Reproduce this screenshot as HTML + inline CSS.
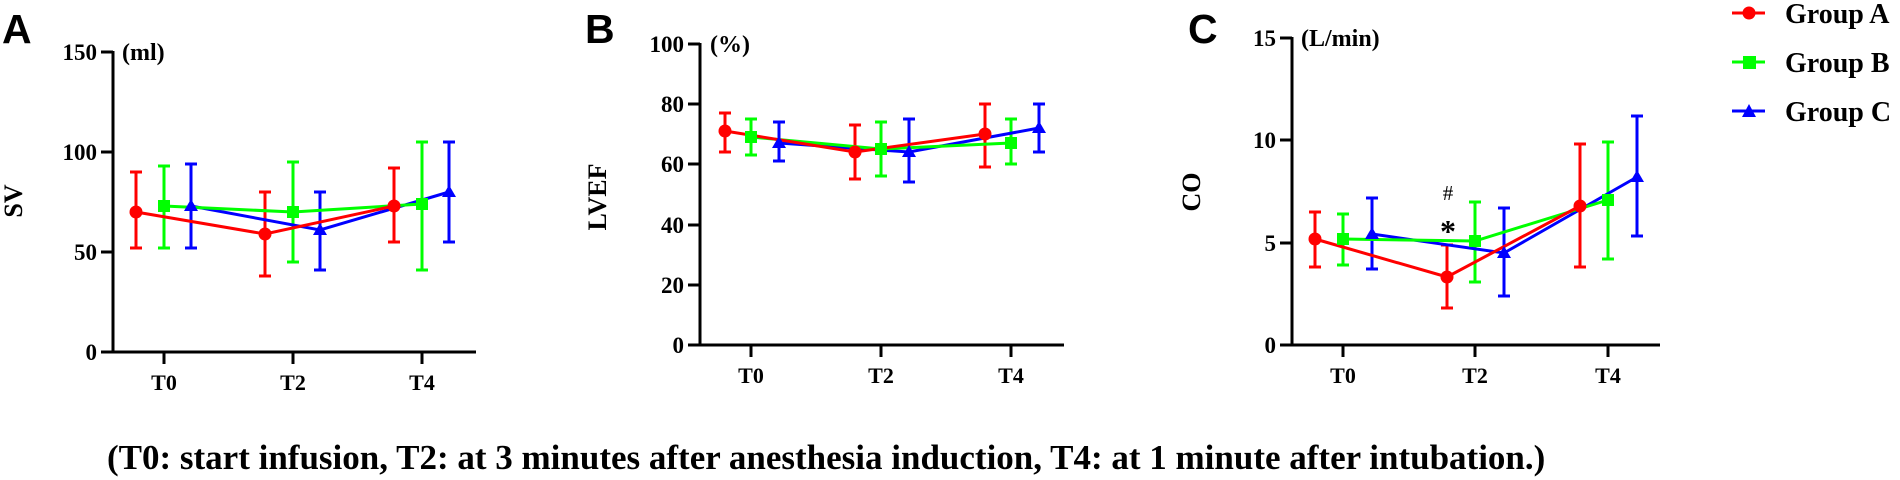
<!DOCTYPE html>
<html><head><meta charset="utf-8"><style>
html,body{margin:0;padding:0;background:#fff;}
svg{display:block}
text{font-family:"Liberation Serif",serif;font-weight:bold;fill:#000}
</style></head><body>
<svg width="1900" height="480" viewBox="0 0 1900 480" xmlns="http://www.w3.org/2000/svg">
<!-- Panel letters -->
<text x="2" y="43" style="font-family:'Liberation Sans',sans-serif;font-size:41px">A</text>
<text x="585" y="43" style="font-family:'Liberation Sans',sans-serif;font-size:41px">B</text>
<text x="1188" y="43" style="font-family:'Liberation Sans',sans-serif;font-size:41px">C</text>

<!-- ===== Panel A ===== -->
<g stroke="#000" stroke-width="3" fill="none">
<line x1="113" y1="51" x2="113" y2="353"/>
<line x1="101" y1="352" x2="476" y2="352"/>
<line x1="101" y1="52" x2="113" y2="52"/><line x1="101" y1="152" x2="113" y2="152"/><line x1="101" y1="252" x2="113" y2="252"/>
<line x1="164" y1="352" x2="164" y2="364"/><line x1="293" y1="352" x2="293" y2="364"/><line x1="422" y1="352" x2="422" y2="364"/>
</g>
<g font-size="23" text-anchor="end">
<text x="97" y="60">150</text><text x="97" y="160">100</text><text x="97" y="260">50</text><text x="97" y="360">0</text>
</g>
<g font-size="22" text-anchor="middle">
<text x="164" y="390">T0</text><text x="293" y="390">T2</text><text x="422" y="390">T4</text>
</g>
<text x="122" y="60" font-size="24">(ml)</text>
<text transform="translate(22,201) rotate(-90)" font-size="26" text-anchor="middle">SV</text>
<g stroke="#f00" stroke-width="3">
<line x1="136" y1="172" x2="136" y2="248"/><line x1="130" y1="172" x2="142" y2="172"/><line x1="130" y1="248" x2="142" y2="248"/>
<line x1="265" y1="192" x2="265" y2="276"/><line x1="259" y1="192" x2="271" y2="192"/><line x1="259" y1="276" x2="271" y2="276"/>
<line x1="394" y1="168" x2="394" y2="242"/><line x1="388" y1="168" x2="400" y2="168"/><line x1="388" y1="242" x2="400" y2="242"/>
</g>
<g stroke="#0f0" stroke-width="3">
<line x1="164" y1="166" x2="164" y2="248"/><line x1="158" y1="166" x2="170" y2="166"/><line x1="158" y1="248" x2="170" y2="248"/>
<line x1="293" y1="162" x2="293" y2="262"/><line x1="287" y1="162" x2="299" y2="162"/><line x1="287" y1="262" x2="299" y2="262"/>
<line x1="422" y1="142" x2="422" y2="270"/><line x1="416" y1="142" x2="428" y2="142"/><line x1="416" y1="270" x2="428" y2="270"/>
</g>
<g stroke="#00f" stroke-width="3">
<line x1="191" y1="164" x2="191" y2="248"/><line x1="185" y1="164" x2="197" y2="164"/><line x1="185" y1="248" x2="197" y2="248"/>
<line x1="320" y1="192" x2="320" y2="270"/><line x1="314" y1="192" x2="326" y2="192"/><line x1="314" y1="270" x2="326" y2="270"/>
<line x1="449" y1="142" x2="449" y2="242"/><line x1="443" y1="142" x2="455" y2="142"/><line x1="443" y1="242" x2="455" y2="242"/>
</g>
<polyline points="191,206 320,230 449,192" stroke="#00f" stroke-width="3" fill="none"/>
<polyline points="164,206 293,212 422,204" stroke="#0f0" stroke-width="3" fill="none"/>
<polyline points="136,212 265,234 394,206" stroke="#f00" stroke-width="3" fill="none"/>
<g fill="#00f"><polygon points="191,199 198,211 184,211"/><polygon points="320,223 327,235 313,235"/><polygon points="449,185 456,197 442,197"/></g>
<g fill="#0f0"><rect x="158" y="200" width="12" height="12"/><rect x="287" y="206" width="12" height="12"/><rect x="416" y="198" width="12" height="12"/></g>
<g fill="#f00"><circle cx="136" cy="212" r="6.5"/><circle cx="265" cy="234" r="6.5"/><circle cx="394" cy="206" r="6.5"/></g>

<!-- ===== Panel B ===== -->
<g stroke="#000" stroke-width="3" fill="none">
<line x1="700" y1="43" x2="700" y2="346"/>
<line x1="688" y1="345" x2="1064" y2="345"/>
<line x1="688" y1="44" x2="700" y2="44"/><line x1="688" y1="104" x2="700" y2="104"/><line x1="688" y1="164" x2="700" y2="164"/><line x1="688" y1="225" x2="700" y2="225"/><line x1="688" y1="285" x2="700" y2="285"/>
<line x1="751" y1="345" x2="751" y2="357"/><line x1="881" y1="345" x2="881" y2="357"/><line x1="1011" y1="345" x2="1011" y2="357"/>
</g>
<g font-size="23" text-anchor="end">
<text x="684" y="52">100</text><text x="684" y="112">80</text><text x="684" y="172">60</text><text x="684" y="233">40</text><text x="684" y="293">20</text><text x="684" y="353">0</text>
</g>
<g font-size="22" text-anchor="middle">
<text x="751" y="383">T0</text><text x="881" y="383">T2</text><text x="1011" y="383">T4</text>
</g>
<text x="710" y="52" font-size="24">(%)</text>
<text transform="translate(606,197) rotate(-90)" font-size="26" text-anchor="middle">LVEF</text>
<g stroke="#f00" stroke-width="3">
<line x1="725" y1="113" x2="725" y2="152"/><line x1="719" y1="113" x2="731" y2="113"/><line x1="719" y1="152" x2="731" y2="152"/>
<line x1="855" y1="125" x2="855" y2="179"/><line x1="849" y1="125" x2="861" y2="125"/><line x1="849" y1="179" x2="861" y2="179"/>
<line x1="985" y1="104" x2="985" y2="167"/><line x1="979" y1="104" x2="991" y2="104"/><line x1="979" y1="167" x2="991" y2="167"/>
</g>
<g stroke="#0f0" stroke-width="3">
<line x1="751" y1="119" x2="751" y2="155"/><line x1="745" y1="119" x2="757" y2="119"/><line x1="745" y1="155" x2="757" y2="155"/>
<line x1="881" y1="122" x2="881" y2="176"/><line x1="875" y1="122" x2="887" y2="122"/><line x1="875" y1="176" x2="887" y2="176"/>
<line x1="1011" y1="119" x2="1011" y2="164"/><line x1="1005" y1="119" x2="1017" y2="119"/><line x1="1005" y1="164" x2="1017" y2="164"/>
</g>
<g stroke="#00f" stroke-width="3">
<line x1="779" y1="122" x2="779" y2="161"/><line x1="773" y1="122" x2="785" y2="122"/><line x1="773" y1="161" x2="785" y2="161"/>
<line x1="909" y1="119" x2="909" y2="182"/><line x1="903" y1="119" x2="915" y2="119"/><line x1="903" y1="182" x2="915" y2="182"/>
<line x1="1039" y1="104" x2="1039" y2="152"/><line x1="1033" y1="104" x2="1045" y2="104"/><line x1="1033" y1="152" x2="1045" y2="152"/>
</g>
<polyline points="779,143 909,152 1039,128" stroke="#00f" stroke-width="3" fill="none"/>
<polyline points="751,137 881,149 1011,143" stroke="#0f0" stroke-width="3" fill="none"/>
<polyline points="725,131 855,152 985,134" stroke="#f00" stroke-width="3" fill="none"/>
<g fill="#00f"><polygon points="779,136 786,148 772,148"/><polygon points="909,145 916,157 902,157"/><polygon points="1039,121 1046,133 1032,133"/></g>
<g fill="#0f0"><rect x="745" y="131" width="12" height="12"/><rect x="875" y="143" width="12" height="12"/><rect x="1005" y="137" width="12" height="12"/></g>
<g fill="#f00"><circle cx="725" cy="131" r="6.5"/><circle cx="855" cy="152" r="6.5"/><circle cx="985" cy="134" r="6.5"/></g>

<!-- ===== Panel C ===== -->
<g stroke="#000" stroke-width="3" fill="none">
<line x1="1292" y1="37" x2="1292" y2="346"/>
<line x1="1280" y1="345" x2="1660" y2="345"/>
<line x1="1280" y1="38" x2="1292" y2="38"/><line x1="1280" y1="140" x2="1292" y2="140"/><line x1="1280" y1="243" x2="1292" y2="243"/>
<line x1="1343" y1="345" x2="1343" y2="357"/><line x1="1475" y1="345" x2="1475" y2="357"/><line x1="1608" y1="345" x2="1608" y2="357"/>
</g>
<g font-size="23" text-anchor="end">
<text x="1276" y="46">15</text><text x="1276" y="148">10</text><text x="1276" y="251">5</text><text x="1276" y="353">0</text>
</g>
<g font-size="22" text-anchor="middle">
<text x="1343" y="383">T0</text><text x="1475" y="383">T2</text><text x="1608" y="383">T4</text>
</g>
<text x="1301" y="46" font-size="24">(L/min)</text>
<text transform="translate(1200,192) rotate(-90)" font-size="26" text-anchor="middle">CO</text>
<text x="1448" y="200" font-size="21" text-anchor="middle" style="font-weight:normal">#</text>
<text x="1448" y="242" font-size="32" text-anchor="middle">*</text>
<g stroke="#f00" stroke-width="3">
<line x1="1315" y1="212" x2="1315" y2="267"/><line x1="1309" y1="212" x2="1321" y2="212"/><line x1="1309" y1="267" x2="1321" y2="267"/>
<line x1="1447" y1="245" x2="1447" y2="308"/><line x1="1441" y1="245" x2="1453" y2="245"/><line x1="1441" y1="308" x2="1453" y2="308"/>
<line x1="1580" y1="144" x2="1580" y2="267"/><line x1="1574" y1="144" x2="1586" y2="144"/><line x1="1574" y1="267" x2="1586" y2="267"/>
</g>
<g stroke="#0f0" stroke-width="3">
<line x1="1343" y1="214" x2="1343" y2="265"/><line x1="1337" y1="214" x2="1349" y2="214"/><line x1="1337" y1="265" x2="1349" y2="265"/>
<line x1="1475" y1="202" x2="1475" y2="282"/><line x1="1469" y1="202" x2="1481" y2="202"/><line x1="1469" y1="282" x2="1481" y2="282"/>
<line x1="1608" y1="142" x2="1608" y2="259"/><line x1="1602" y1="142" x2="1614" y2="142"/><line x1="1602" y1="259" x2="1614" y2="259"/>
</g>
<g stroke="#00f" stroke-width="3">
<line x1="1372" y1="198" x2="1372" y2="269"/><line x1="1366" y1="198" x2="1378" y2="198"/><line x1="1366" y1="269" x2="1378" y2="269"/>
<line x1="1504" y1="208" x2="1504" y2="296"/><line x1="1498" y1="208" x2="1510" y2="208"/><line x1="1498" y1="296" x2="1510" y2="296"/>
<line x1="1637" y1="116" x2="1637" y2="236"/><line x1="1631" y1="116" x2="1643" y2="116"/><line x1="1631" y1="236" x2="1643" y2="236"/>
</g>
<polyline points="1372,234 1504,253 1637,177" stroke="#00f" stroke-width="3" fill="none"/>
<polyline points="1343,239 1475,241 1608,200" stroke="#0f0" stroke-width="3" fill="none"/>
<polyline points="1315,239 1447,277 1580,206" stroke="#f00" stroke-width="3" fill="none"/>
<g fill="#00f"><polygon points="1372,227 1379,239 1365,239"/><polygon points="1504,246 1511,258 1497,258"/><polygon points="1637,170 1644,182 1630,182"/></g>
<g fill="#0f0"><rect x="1337" y="233" width="12" height="12"/><rect x="1469" y="235" width="12" height="12"/><rect x="1602" y="194" width="12" height="12"/></g>
<g fill="#f00"><circle cx="1315" cy="239" r="6.5"/><circle cx="1447" cy="277" r="6.5"/><circle cx="1580" cy="206" r="6.5"/></g>

<!-- Legend -->
<line x1="1732" y1="13" x2="1765" y2="13" stroke="#f00" stroke-width="3"/><circle cx="1749" cy="13" r="6.5" fill="#f00"/>
<line x1="1732" y1="62" x2="1765" y2="62" stroke="#0f0" stroke-width="3"/><rect x="1743" y="56" width="13" height="13" fill="#0f0"/>
<line x1="1732" y1="111" x2="1765" y2="111" stroke="#00f" stroke-width="3"/><polygon points="1749,104 1756,117 1742,117" fill="#00f"/>
<g font-size="28">
<text x="1785" y="23">Group A</text><text x="1785" y="72">Group B</text><text x="1785" y="121">Group C</text>
</g>

<!-- Caption -->
<text x="107" y="469" font-size="35">(T0: start infusion, T2: at 3 minutes after anesthesia induction, T4: at 1 minute after intubation.)</text>
</svg>
</body></html>
